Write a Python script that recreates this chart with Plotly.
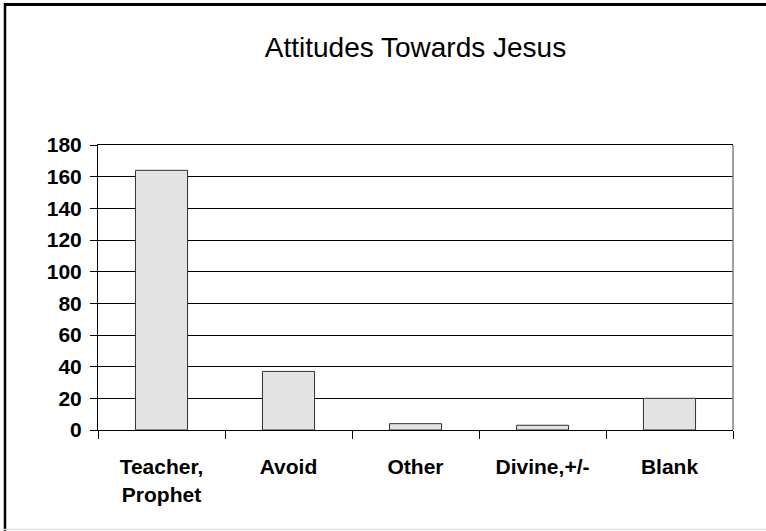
import plotly.graph_objects as go

categories = ["Teacher,<br>Prophet", "Avoid", "Other", "Divine,+/-", "Blank"]
values = [164, 37, 4, 3, 20]
y_ticks = [0, 20, 40, 60, 80, 100, 120, 140, 160, 180]

W, H = 766, 531
L, R, T, B = 98, 733, 145, 430

def px_x(px):
    return (px - L) / (R - L)

def px_y(py):
    return (B - py) / (B - T)

fig = go.Figure(go.Bar(
    x=categories, y=values,
    marker=dict(color="#e3e3e3", line=dict(color="#333333", width=1)),
    width=0.41,
))

font_family = "Liberation Sans, Arial, sans-serif"

fig.update_layout(
    width=W, height=H,
    margin=dict(l=L, r=W - R, t=T, b=H - B, autoexpand=False),
    paper_bgcolor="white", plot_bgcolor="white",
    showlegend=False,
    title=dict(text="Attitudes Towards Jesus", x=0.5, xanchor="center",
               xref="paper", y=1 - 47 / H, yanchor="middle", yref="container",
               font=dict(family=font_family, size=28, color="black")),
    font=dict(family=font_family, color="black"),
    xaxis=dict(
        showline=True, linecolor="black", linewidth=1, mirror=True,
        ticks="outside", ticklen=8, tickcolor="black", tickwidth=1,
        tickson="boundaries", showgrid=False,
        tickfont=dict(family=font_family, size=21, color="black", weight="bold"),
        ticklabelstandoff=18,
    ),
    yaxis=dict(
        range=[0, 180], tickvals=y_ticks, ticktext=[str(v) for v in y_ticks],
        showline=True, linecolor="black", linewidth=1,
        ticks="outside", ticklen=7, tickcolor="black", tickwidth=1,
        showgrid=True, gridcolor="black", gridwidth=1, zeroline=False,
        tickfont=dict(family=font_family, size=21, color="black", weight="bold"),
        ticklabelstandoff=4,
    ),
    shapes=[
        dict(type="line", xref="paper", yref="paper", x0=1, x1=1, y0=0, y1=1,
             line=dict(color="#808080", width=1.5)),
        dict(type="line", xref="paper", yref="paper", x0=px_x(4), x1=px_x(770),
             y0=px_y(4.5), y1=px_y(4.5), line=dict(color="black", width=3)),
        dict(type="line", xref="paper", yref="paper", x0=px_x(5), x1=px_x(5),
             y0=px_y(3), y1=px_y(531), line=dict(color="black", width=2.5)),
        dict(type="line", xref="paper", yref="paper", x0=px_x(4), x1=px_x(770),
             y0=px_y(529.5), y1=px_y(529.5), line=dict(color="#e0e0e0", width=1.5)),
    ],
)

fig.write_html(
    "out.html",
    config={"displayModeBar": False},
    post_script="document.body.style.margin='0';document.body.style.overflow='hidden';",
)
